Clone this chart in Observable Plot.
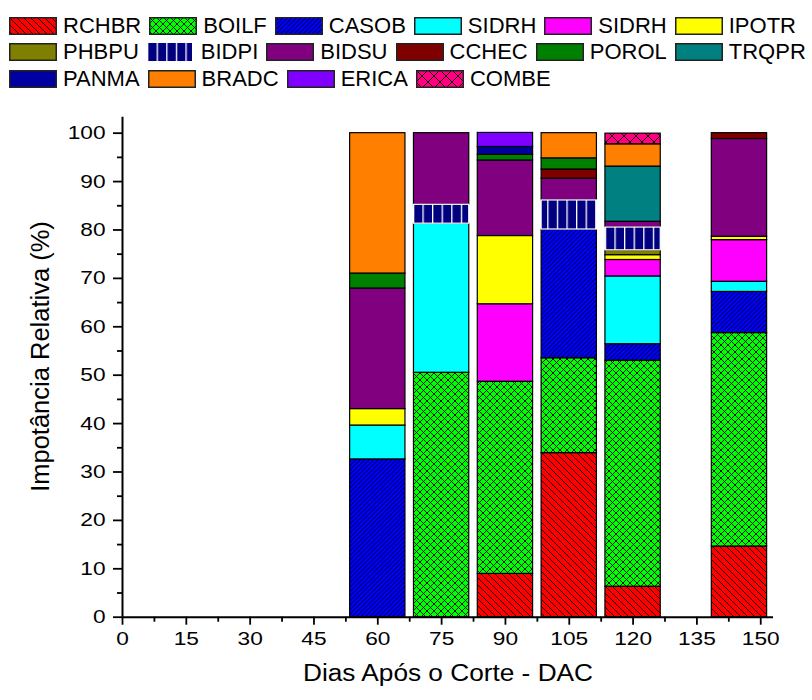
<!DOCTYPE html>
<html><head><meta charset="utf-8">
<script src="https://cdn.jsdelivr.net/npm/d3@7"></script>
<script src="https://cdn.jsdelivr.net/npm/@observablehq/plot@0.6"></script>
<style>
body{margin:0;background:#fff;font-family:"Liberation Sans",Arial,sans-serif;}
#legend{position:absolute;left:9px;top:12.5px;}
.row{display:flex;align-items:center;height:26.5px;}
.item{display:flex;align-items:center;margin-right:8px;}
.item svg{margin-right:6px;display:block}
.item span{font-size:22px;color:#000;line-height:1;white-space:nowrap}
#chart{position:absolute;left:0;top:100px;}
</style></head><body>
<svg width="0" height="0" style="position:absolute"><defs>
<pattern id="p-rchbr" patternUnits="userSpaceOnUse" width="7" height="7">
  <rect width="7" height="7" fill="#ff0000"/>
  <path d="M0,0L7,7M-1,6L1,8M6,-1L8,1" stroke="#000" stroke-width="0.9"/>
</pattern>
<pattern id="p-boilf" patternUnits="userSpaceOnUse" width="7" height="7">
  <rect width="7" height="7" fill="#00ff00"/>
  <path d="M0,0L7,7M7,0L0,7" stroke="#000" stroke-width="0.9"/>
</pattern>
<pattern id="p-casob" patternUnits="userSpaceOnUse" width="4.5" height="4.5">
  <rect width="4.5" height="4.5" fill="#0000ff"/>
  <path d="M0,4.5L4.5,0M-1,1L1,-1M3.5,5.5L5.5,3.5" stroke="#000" stroke-width="0.9"/>
</pattern>
<pattern id="p-combe" patternUnits="userSpaceOnUse" width="12" height="12">
  <rect width="12" height="12" fill="#ff0080"/>
  <path d="M0,0L12,12M12,0L0,12" stroke="#000" stroke-width="0.9"/>
</pattern>
<pattern id="p-bidpi" patternUnits="userSpaceOnUse" width="9.6" height="10">
  <rect width="9.6" height="10" fill="#000080"/>
  <path d="M0.6,0L0.6,10" stroke="#fff" stroke-width="1.4"/>
</pattern>
</defs></svg>
<div id="legend"></div>
<div id="chart"></div>
<script>
// Categories (days after cut) and the x position at which each bar is drawn
const dacLabels = ["60", "75", "90", "105", "120", "150"];
const dac = [60, 75, 90, 105, 120, 145];

// Species codes (stack order = legend order)
const keys = ["RCHBR","BOILF","CASOB","SIDRH_c","SIDRH_m","IPOTR","PHBPU","BIDPI","BIDSU","CCHEC","POROL","TRQPR","PANMA","BRADC","ERICA","COMBE"];
const labels = ["RCHBR","BOILF","CASOB","SIDRH","SIDRH","IPOTR","PHBPU","BIDPI","BIDSU","CCHEC","POROL","TRQPR","PANMA","BRADC","ERICA","COMBE"];

// Relative importance (%) per species, for dac = 60, 75, 90, 105, 120, 150
const RCHBR   = [0,    0,    8.95, 33.9, 6.3,  14.6];
const BOILF   = [0,    50.5, 39.7, 19.6, 46.7, 44.1];
const CASOB   = [32.6, 0,    0,    26.6, 3.4,  8.5];
const SIDRH_c = [7.0,  30.8, 0,    0,    14.0, 2.1];
const SIDRH_m = [0,    0,    16.0, 0,    3.4,  8.6];
const IPOTR   = [3.4,  0,    14.1, 0,    1.0,  0.7];
const PHBPU   = [0,    0,    0,    0,    1.0,  0];
const BIDPI   = [0,    3.9,  0,    6.0,  4.7,  0];
const BIDSU   = [24.9, 14.8, 15.6, 4.5,  1.2,  20.2];
const CCHEC   = [0,    0,    0,    1.9,  0,    1.2];
const POROL   = [3.1,  0,    1.2,  2.3,  0,    0];
const TRQPR   = [0,    0,    0,    0,    11.4, 0];
const PANMA   = [0,    0,    1.6,  0,    0,    0];
const BRADC   = [29.0, 0,    0,    5.2,  4.6,  0];
const ERICA   = [0,    0,    2.9,  0,    0,    0];
const COMBE   = [0,    0,    0,    0,    2.2,  0];

// Axis ticks
const xTicks = [0, 15, 30, 45, 60, 75, 90, 105, 120, 135, 150];
const xMinor = [7.5, 22.5, 37.5, 52.5, 67.5, 82.5, 97.5, 112.5, 127.5, 142.5];
const yTicks = [0, 10, 20, 30, 40, 50, 60, 70, 80, 90, 100];
const yMinor = [5, 15, 25, 35, 45, 55, 65, 75, 85, 95];
const xTitle = "Dias Após o Corte - DAC";
const yTitle = "Impotância Relativa (%)";

// Styles
const fills = ["url(#p-rchbr)","url(#p-boilf)","url(#p-casob)","#00ffff","#ff00ff","#ffff00","#808000","url(#p-bidpi)","#800080","#800000","#008000","#008080","#0000a0","#ff8000","#8000ff","url(#p-combe)"];
const fillOf = Object.fromEntries(keys.map((k, i) => [k, fills[i]]));
const series = [RCHBR,BOILF,CASOB,SIDRH_c,SIDRH_m,IPOTR,PHBPU,BIDPI,BIDSU,CCHEC,POROL,TRQPR,PANMA,BRADC,ERICA,COMBE];

// Build stacked rows
const rows = [];
dac.forEach((d, i) => {
  let acc = 0;
  keys.forEach((k, j) => {
    const v = series[j][i];
    if (v > 0) { rows.push({dac: d, key: k, y1: acc, y2: acc + v}); acc += v; }
  });
});

// Legend
const legendRows = [keys.slice(0, 6), keys.slice(6, 12), keys.slice(12)];
const legend = document.getElementById("legend");
legendRows.forEach(r => {
  const row = document.createElement("div");
  row.className = "row";
  r.forEach(k => {
    const i = keys.indexOf(k);
    const item = document.createElement("div");
    item.className = "item";
    const sw = k === "BIDPI"
      ? `<svg width="48" height="18"><rect x="0" y="0" width="45" height="18" fill="${fillOf[k]}"/></svg>`
      : `<svg width="48" height="18"><rect x="0.75" y="0.75" width="46.5" height="16.5" fill="${fillOf[k]}" stroke="#222" stroke-width="1.5"/></svg>`;
    item.innerHTML = sw + `<span>${labels[i]}</span>`;
    row.appendChild(item);
  });
  legend.appendChild(row);
});

const half = 6.5;
const plot = Plot.plot({
  width: 812, height: 600,
  marginLeft: 122, marginRight: 39, marginTop: 16.7, marginBottom: 83.3,
  x: {domain: [0, 153]},
  y: {domain: [0, 103.3]},
  color: {type: "identity"},
  style: {fontFamily: "Liberation Sans, Arial, sans-serif", color: "#000", background: "#fff", overflow: "visible"},
  marks: [
    Plot.rect(rows.filter(r => r.key !== "BIDPI"), {x1: r => r.dac - half, x2: r => r.dac + half, y1: "y1", y2: "y2", fill: r => fillOf[r.key], stroke: "#000", strokeWidth: 1.2}),
    Plot.rect(rows.filter(r => r.key === "BIDPI"), {x1: r => r.dac - half, x2: r => r.dac + half, y1: "y1", y2: "y2", fill: r => fillOf[r.key], stroke: "#fff", strokeWidth: 1.2}),
    Plot.ruleY([0], {stroke: "#000", strokeWidth: 2}),
    Plot.ruleX([0], {stroke: "#000", strokeWidth: 2}),
    Plot.axisX(xTicks, {tickSize: 8, tickPadding: 7, fontSize: 18.6, strokeWidth: 1.8, label: null, tickFormat: d => String(d)}),
    Plot.axisX(xMinor, {tickSize: 5, text: null, strokeWidth: 1.8, label: null}),
    Plot.axisY(yTicks, {tickSize: 9, tickPadding: 8, fontSize: 18.6, strokeWidth: 1.8, label: null, tickFormat: d => String(d)}),
    Plot.axisY(yMinor, {tickSize: 5, text: null, strokeWidth: 1.8, label: null}),
    Plot.text([xTitle], {frameAnchor: "bottom", dy: 63.3, lineAnchor: "bottom", fontSize: 23, fill: "#000"}),
    Plot.text([yTitle], {frameAnchor: "left", dx: -82, dy: -10.7, rotate: -90, textAnchor: "middle", lineAnchor: "middle", fontSize: 25.5, fill: "#000"})
  ]
});
document.getElementById("chart").append(plot);

// Horizontal stretch of the chart's upright texts, as in the reference
function stretch(t, k) {
  const L = t.getComputedTextLength();
  t.setAttribute("textLength", L * k);
  t.setAttribute("lengthAdjust", "spacingAndGlyphs");
}
plot.querySelectorAll('g[aria-label="x-axis tick label"] text, g[aria-label="y-axis tick label"] text').forEach(t => stretch(t, 1.22));
plot.querySelectorAll("text").forEach(t => { if (t.textContent === xTitle) stretch(t, 1.14); });
</script>
</body></html>
